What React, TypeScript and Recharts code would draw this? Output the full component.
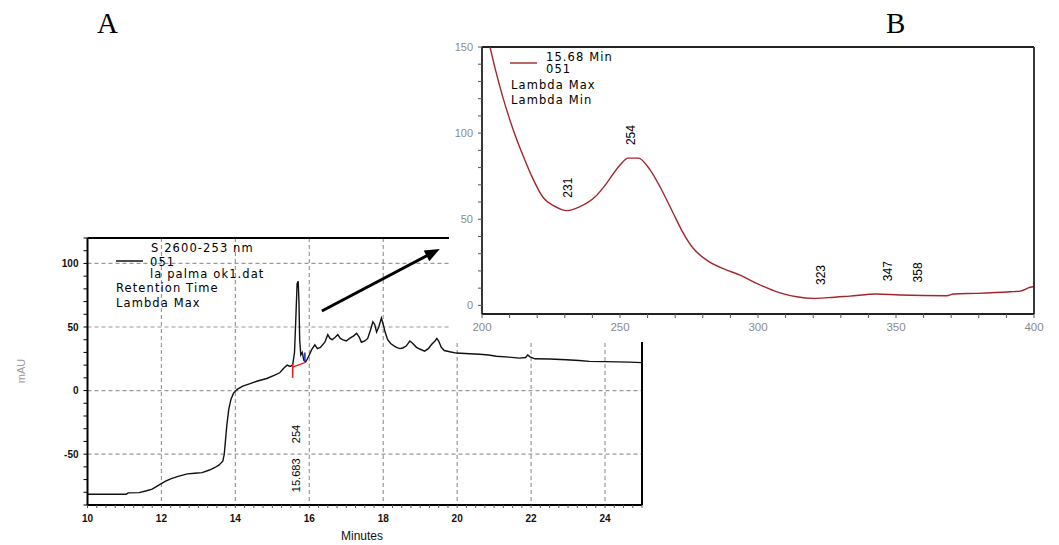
import React from 'react';
import { LineChart, Line, XAxis, YAxis, CartesianGrid, ReferenceLine, ReferenceDot } from 'recharts';

// ---------- Panel A: chromatogram (253 nm) ----------
const chromTime = [
  10.0, 11.05, 11.1, 11.4, 11.6, 11.75, 11.95, 12.1, 12.25, 12.45, 12.7, 12.9, 13.1, 13.3, 13.45, 13.56, 13.66,
  13.7, 13.73, 13.77, 13.82, 13.88, 13.95, 14.05, 14.2, 14.4, 14.6, 14.85, 15.05, 15.2, 15.32, 15.4, 15.48, 15.55,
  15.6, 15.64, 15.67, 15.7, 15.72, 15.74, 15.77, 15.81, 15.85, 15.9, 15.95, 16.0, 16.06, 16.15, 16.22, 16.3, 16.42,
  16.5, 16.56, 16.62, 16.7, 16.77, 16.84, 16.9, 17.0, 17.09, 17.2, 17.28, 17.35, 17.41, 17.5, 17.58, 17.66, 17.72,
  17.77, 17.82, 17.88, 17.95, 18.0, 18.05, 18.12, 18.2, 18.3, 18.36, 18.45, 18.53, 18.62, 18.72, 18.8, 18.9, 19.0,
  19.12, 19.22, 19.3, 19.4, 19.45, 19.5, 19.57, 19.65, 19.8, 19.98, 20.34, 20.61, 20.85, 21.06, 21.4, 21.69, 21.85,
  21.91, 21.97, 22.1, 22.5, 22.95, 23.3, 23.58, 24.0, 24.66, 25.0,
];
const chromMAU = [
  -81.5, -81.5, -80.5, -80.3, -78.8, -77.5, -74, -71.5, -69.5, -67.5, -65.5, -65, -64.5, -62.5, -60.5, -58.5, -55.5,
  -50, -40, -27, -15, -7, -2, 1, 3.5, 5.5, 7.5, 9.5, 12, 14, 18, 20, 19, 20,
  30, 60, 84, 86, 70, 40, 28, 30, 24, 22.5, 25, 28, 32, 36, 33, 34, 38,
  44, 41, 40, 42, 44, 41, 40, 39, 41, 43, 45, 42, 38, 39, 41, 48, 54,
  52, 46, 50, 57, 52, 46, 40, 37, 35, 34, 33, 33.5, 35, 39, 37, 34, 32.5,
  31, 33, 36, 39, 41, 39, 34, 31.5, 30.5, 29.5, 29, 28.6, 28, 27, 26.3, 25.5, 26,
  28, 26.5, 25, 24.8, 24.2, 23.6, 23, 22.8, 22.4, 22,
];
const chromXTickLabels = [10, 12, 14, 16, 18, 20, 22, 24];
const chromXTicks = [
  10, 10.25, 10.5, 10.75, 11, 11.25, 11.5, 11.75, 12, 12.25, 12.5, 12.75, 13, 13.25, 13.5, 13.75, 14, 14.25, 14.5,
  14.75, 15, 15.25, 15.5, 15.75, 16, 16.25, 16.5, 16.75, 17, 17.25, 17.5, 17.75, 18, 18.25, 18.5, 18.75, 19, 19.25,
  19.5, 19.75, 20, 20.25, 20.5, 20.75, 21, 21.25, 21.5, 21.75, 22, 22.25, 22.5, 22.75, 23, 23.25, 23.5, 23.75, 24,
  24.25, 24.5, 24.75, 25,
];
const chromGridX = [12, 14, 16, 18, 20, 22, 24];
const chromYTickLabels = [-50, 0, 50, 100];
const chromYTicks = [-90, -80, -70, -60, -50, -40, -30, -20, -10, 0, 10, 20, 30, 40, 50, 60, 70, 80, 90, 100, 110, 120];
const chromPeakTime = 15.683;
const chromPeakLambda = '254';
const chromPeakTimeLabel = '15.683';
// integration marks and arrow (annotations)
const redTickTime = 15.55;
const redBaseline = [{ t: 15.55, v: 18.5 }, { t: 15.88, v: 22 }];
const blueTickTime = 15.88;
const arrowFrom = { t: 16.34, v: 62.6 };
const arrowTo = { t: 19.53, v: 111.4 };

// ---------- Panel B: UV spectrum at 15.68 min ----------
const specWavelength = [
  202.9, 205, 207.7, 211.3, 215, 218.6, 222.2, 226.4, 230.7, 235.5, 241, 245.2, 250, 253, 256.6, 260.9, 265.1,
  269.3, 272.9, 276.6, 281.4, 288.7, 293.5, 299.5, 308, 314, 320, 325.5, 333.3, 343, 351.4, 368.4, 370.8, 379.2,
  391.3, 395, 398.6, 400,
];
const specMAU = [
  150, 136, 120, 102, 86.4, 73, 62.5, 57.5, 55, 57.3, 63, 71, 81.5, 85.5, 85.5, 78.7, 67,
  53.5, 42, 33, 26.3, 20.5, 17.6, 12.8, 7.3, 5, 4.1, 4.5, 5.4, 6.6, 6, 5.6, 6.6, 7,
  7.9, 8.3, 10.5, 11,
];
const specXTickLabels = [200, 250, 300, 350, 400];
const specXTicks = [200, 210, 220, 230, 240, 250, 260, 270, 280, 290, 300, 310, 320, 330, 340, 350, 360, 370, 380, 390, 400];
const specYTickLabels = [0, 50, 100, 150];
const specYTicks = [0, 10, 20, 30, 40, 50, 60, 70, 80, 90, 100, 110, 120, 130, 140, 150];
const peakLambda = [231, 254, 323, 347, 358];
const peakMAU = [55, 85.5, 4.3, 6.5, 5.8];

const chromData = chromTime.map((t, i) => ({ t, v: chromMAU[i] }));
const specData = specWavelength.map((w, i) => ({ w, a: specMAU[i] }));

const SANS = '"Liberation Sans", Arial, sans-serif';
const LEG = '"DejaVu Sans", sans-serif';

const ChromYTick = (p: any) =>
  chromYTickLabels.includes(p.payload.value) ? (
    <text x={p.x} y={p.y} dy="0.36em" textAnchor="end" fontFamily={SANS} fontSize={10} fontWeight="bold" fill="#111">
      {p.payload.value}
    </text>
  ) : (
    <g />
  );
const ChromXTick = (p: any) =>
  chromXTickLabels.includes(p.payload.value) ? (
    <text x={p.x} y={p.y} dy="0.71em" textAnchor="middle" fontFamily={SANS} fontSize={10} fontWeight="bold" fill="#111">
      {p.payload.value}
    </text>
  ) : (
    <g />
  );
const SpecYTick = (p: any) =>
  specYTickLabels.includes(p.payload.value) ? (
    <text x={p.x} y={p.y} dy="0.36em" textAnchor="end" fontFamily={SANS} fontSize={11} fill="#8a8a8a">
      {p.payload.value}
    </text>
  ) : (
    <g />
  );
const SpecXTick = (p: any) =>
  specXTickLabels.includes(p.payload.value) ? (
    <text x={p.x} y={p.y} dy="0.71em" textAnchor="middle" fontFamily={SANS} fontSize={11.5} fill="#8a8a8a">
      {p.payload.value}
    </text>
  ) : (
    <g />
  );

const ArrowShape = (p: any) => {
  const { x1, y1, x2, y2 } = p;
  const dx = x2 - x1;
  const dy = y2 - y1;
  const L = Math.hypot(dx, dy) || 1;
  const ux = dx / L;
  const uy = dy / L;
  const hl = 15;
  const hw = 6;
  const bx = x2 - ux * hl;
  const by = y2 - uy * hl;
  return (
    <g>
      <line x1={x1} y1={y1} x2={bx + ux * 2} y2={by + uy * 2} stroke="#000" strokeWidth={3} />
      <polygon points={`${x2},${y2} ${bx - uy * hw},${by + ux * hw} ${bx + uy * hw},${by - ux * hw}`} fill="#000" />
    </g>
  );
};

const ChromPeakLabel = (p: any) => {
  const { cx, cy } = p;
  const bx = cx + 2;
  return (
    <g fontFamily={SANS} fontSize={11} fill="#000">
      <text x={bx} y={cy + 38} transform={`rotate(-90, ${bx}, ${cy + 38})`}>{chromPeakTimeLabel}</text>
      <text x={bx} y={cy - 11} transform={`rotate(-90, ${bx}, ${cy - 11})`}>{chromPeakLambda}</text>
    </g>
  );
};

const makeSpecLabel = (txt: string) => (p: any) => {
  const { cx, cy } = p;
  const bx = cx + 4;
  const by = cy - 13;
  return (
    <text x={bx} y={by} transform={`rotate(-90, ${bx}, ${by})`} fontFamily={SANS} fontSize={12} fill="#000">
      {txt}
    </text>
  );
};

export default function App() {
  return (
    <div style={{ position: 'absolute', left: 0, top: 0, width: 1059, height: 545, background: '#fff', overflow: 'hidden' }}>
      {/* Panel A */}
      <div style={{ position: 'absolute', left: 0, top: 0 }}>
        <LineChart width={1059} height={545} data={chromData} margin={{ top: 238, right: 407, bottom: 10, left: 27.5 }}>
          <CartesianGrid
            horizontalValues={chromYTickLabels}
            verticalValues={chromGridX}
            stroke="#999"
            strokeDasharray="4 3"
            strokeWidth={1.2}
          />
          <XAxis
            dataKey="t"
            type="number"
            domain={[10, 25]}
            ticks={chromXTicks}
            interval={0}
            height={30}
            tick={ChromXTick}
            tickSize={3}
            tickMargin={7}
            tickLine={{ stroke: '#555', strokeWidth: 1 }}
            axisLine={{ stroke: '#000', strokeWidth: 2 }}
            allowDataOverflow
          />
          <YAxis
            type="number"
            domain={[-90, 120]}
            ticks={chromYTicks}
            interval={0}
            width={60}
            tick={ChromYTick}
            tickSize={4}
            tickMargin={5}
            tickLine={{ stroke: '#000', strokeWidth: 1 }}
            axisLine={{ stroke: '#000', strokeWidth: 2 }}
            allowDataOverflow
          />
          <YAxis
            yAxisId="r"
            orientation="right"
            type="number"
            domain={[-90, 120]}
            ticks={chromYTicks}
            interval={0}
            width={10}
            tick={false}
            tickSize={4}
            tickLine={{ stroke: '#000', strokeWidth: 1 }}
            axisLine={{ stroke: '#000', strokeWidth: 2 }}
          />
          <ReferenceLine y={120} stroke="#000" strokeWidth={2} />
          <Line dataKey="v" stroke="#111" strokeWidth={1.4} dot={false} isAnimationActive={false} type="linear" />
          <ReferenceLine segment={[{ x: redTickTime, y: 10 }, { x: redTickTime, y: 21 }]} stroke="#e0201c" strokeWidth={1.6} />
          <ReferenceLine segment={[{ x: redBaseline[0].t, y: redBaseline[0].v }, { x: redBaseline[1].t, y: redBaseline[1].v }]} stroke="#e0201c" strokeWidth={1.4} />
          <ReferenceLine segment={[{ x: blueTickTime, y: 23 }, { x: blueTickTime, y: 30 }]} stroke="#2233cc" strokeWidth={1.6} />
          <ReferenceLine segment={[{ x: arrowFrom.t, y: arrowFrom.v }, { x: arrowTo.t, y: arrowTo.v }]} shape={ArrowShape} />
          <ReferenceDot x={chromPeakTime} y={-50} r={0} shape={ChromPeakLabel} />
        </LineChart>
      </div>

      {/* Panel B */}
      <div style={{ position: 'absolute', left: 449, top: 0, width: 610, height: 342, background: '#fff' }}>
        <LineChart width={610} height={342} data={specData} margin={{ top: 47, right: 15, bottom: 3, left: 3 }}>
          <XAxis
            dataKey="w"
            type="number"
            domain={[200, 400]}
            ticks={specXTicks}
            interval={0}
            height={25}
            tick={SpecXTick}
            tickSize={4}
            tickMargin={5}
            tickLine={{ stroke: '#555', strokeWidth: 1 }}
            axisLine={{ stroke: '#222', strokeWidth: 1.8 }}
            allowDataOverflow
          />
          <YAxis
            type="number"
            domain={[-5, 150]}
            ticks={specYTicks}
            interval={0}
            width={30}
            tick={SpecYTick}
            tickSize={4}
            tickMargin={5}
            tickLine={{ stroke: '#555', strokeWidth: 1 }}
            axisLine={{ stroke: '#222', strokeWidth: 1.8 }}
            allowDataOverflow
          />
          <YAxis
            yAxisId="r"
            orientation="right"
            type="number"
            domain={[-5, 150]}
            ticks={specYTicks}
            interval={0}
            width={10}
            tick={false}
            tickSize={4}
            tickLine={{ stroke: '#555', strokeWidth: 1 }}
            axisLine={{ stroke: '#222', strokeWidth: 1.8 }}
          />
          <ReferenceLine y={150} stroke="#222" strokeWidth={2} />
          <Line dataKey="a" stroke="#a3262c" strokeWidth={1.4} dot={false} isAnimationActive={false} type="monotone" />
          {peakLambda.map((w, i) => (
            <ReferenceDot key={w} x={w} y={peakMAU[i]} r={0} shape={makeSpecLabel(String(w))} />
          ))}
        </LineChart>
      </div>

      {/* Text overlay: panel letters, legends, axis titles */}
      <svg width={1059} height={545} style={{ position: 'absolute', left: 0, top: 0, pointerEvents: 'none' }}>
        <text x={97} y={33} fontFamily='"Liberation Serif", serif' fontSize={29} fill="#000">A</text>
        <text x={886} y={33} fontFamily='"Liberation Serif", serif' fontSize={29} fill="#000">B</text>

        <g fontFamily={LEG} fontSize={11.5} letterSpacing={1.1} fill="#000">
          <text x={151} y={252}>S 2600-253 nm</text>
          <line x1={116} y1={261} x2={143} y2={261} stroke="#000" strokeWidth={1.4} />
          <text x={150} y={266}>051</text>
          <text x={150} y={278}>la palma ok1.dat</text>
          <text x={116} y={292}>Retention Time</text>
          <text x={116} y={307}>Lambda Max</text>

          <line x1={510} y1={63} x2={537} y2={63} stroke="#a3262c" strokeWidth={1.4} />
          <text x={546} y={61}>15.68 Min</text>
          <text x={546} y={73}>051</text>
          <text x={511} y={89}>Lambda Max</text>
          <text x={511} y={104}>Lambda Min</text>
        </g>

        <text x={25} y={371} transform="rotate(-90, 25, 371)" textAnchor="middle" fontFamily={SANS} fontSize={11} fill="#9a9a9a">mAU</text>
        <text x={362} y={540} textAnchor="middle" fontFamily={SANS} fontSize={12} fill="#111">Minutes</text>
      </svg>
    </div>
  );
}
